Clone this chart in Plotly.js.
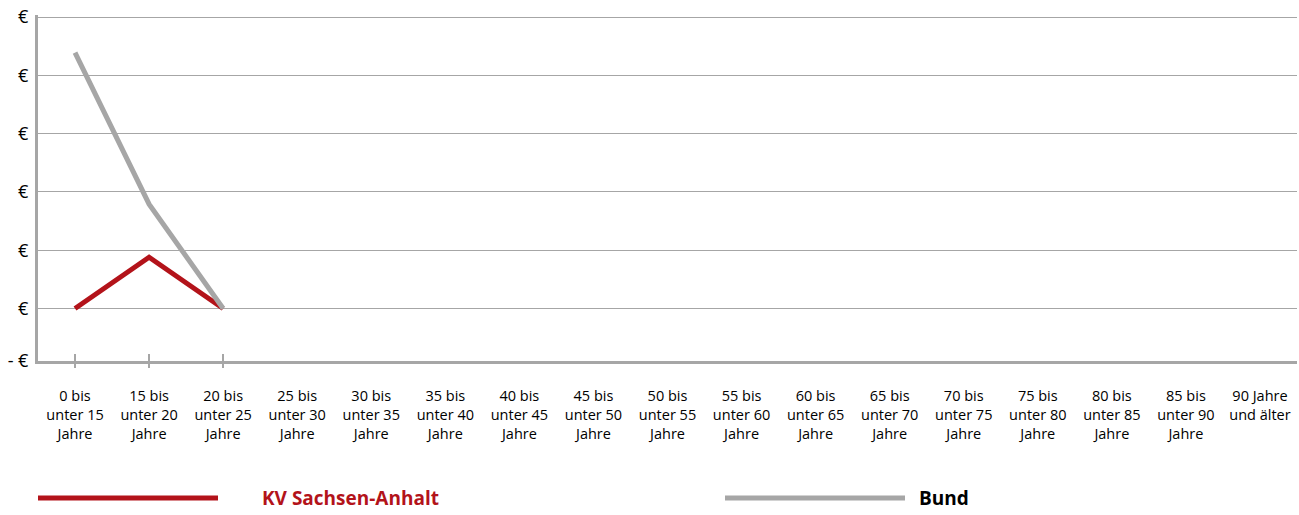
<!DOCTYPE html>
<html>
<head>
<meta charset="utf-8">
<script src="https://cdn.plot.ly/plotly-3.0.1.min.js"></script>
<style>html,body{margin:0;padding:0;background:#fff;}#chart{width:1299px;height:515px;}</style>
</head>
<body>
<div id="chart"></div>
<script>
const categories = [
  "0 bis<br>unter 15<br>Jahre", "15 bis<br>unter 20<br>Jahre", "20 bis<br>unter 25<br>Jahre",
  "25 bis<br>unter 30<br>Jahre", "30 bis<br>unter 35<br>Jahre", "35 bis<br>unter 40<br>Jahre",
  "40 bis<br>unter 45<br>Jahre", "45 bis<br>unter 50<br>Jahre", "50 bis<br>unter 55<br>Jahre",
  "55 bis<br>unter 60<br>Jahre", "60 bis<br>unter 65<br>Jahre", "65 bis<br>unter 70<br>Jahre",
  "70 bis<br>unter 75<br>Jahre", "75 bis<br>unter 80<br>Jahre", "80 bis<br>unter 85<br>Jahre",
  "85 bis<br>unter 90<br>Jahre", "90 Jahre<br>und älter"
];
const kvSachsenAnhalt = [0.9, 1.78, 0.9];
const bund = [5.29, 2.69, 0.9];
const yTickVals = [0, 0.9, 1.9, 2.9, 3.9, 4.9, 5.9];
const yTickText = ["- €", "€", "€", "€", "€", "€", "€"];
const seriesNames = ["KV Sachsen-Anhalt", "Bund"];
const seriesColors = ["#b3131a", "#a6a6a6"];

const fontFam = "'Open Sans', 'Noto Sans', sans-serif";
const tickedCats = categories.slice(0, 3);

const traces = [
  {x: categories.slice(0, kvSachsenAnhalt.length), y: kvSachsenAnhalt, type: "scatter", mode: "lines",
   name: seriesNames[0], line: {color: seriesColors[0], width: 5}, hoverinfo: "skip"},
  {x: categories.slice(0, bund.length), y: bund, type: "scatter", mode: "lines",
   name: seriesNames[1], line: {color: seriesColors[1], width: 5}, hoverinfo: "skip"}
];

const axCommon = {
  type: "category", categoryorder: "array", categoryarray: categories,
  range: [-0.5, categories.length - 0.5], fixedrange: true
};

const legY = -137 / 346;

const layout = {
  width: 1299, height: 515,
  margin: {l: 38, r: 2, t: 15, b: 154},
  paper_bgcolor: "#fff", plot_bgcolor: "#fff",
  showlegend: false,
  font: {family: fontFam, color: "#000", size: 14},
  xaxis: Object.assign({}, axCommon, {
    showgrid: false, zeroline: false,
    showline: true, linecolor: "#a6a6a6", linewidth: 3,
    ticks: "", tickfont: {family: fontFam, size: 14.5, color: "#000"},
    ticklabelstandoff: 20
  }),
  xaxis2: Object.assign({}, axCommon, {
    overlaying: "x", anchor: "y", side: "bottom",
    showgrid: false, zeroline: false, showline: false,
    tickmode: "array", tickvals: tickedCats, ticktext: ["", "", ""],
    ticks: "outside", ticklen: 6, tickwidth: 2, tickcolor: "#a6a6a6", showticklabels: false
  }),
  xaxis3: Object.assign({}, axCommon, {
    overlaying: "x", anchor: "y", side: "bottom",
    showgrid: false, zeroline: false, showline: false,
    tickmode: "array", tickvals: tickedCats, ticktext: ["", "", ""],
    ticks: "inside", ticklen: 7, tickwidth: 2, tickcolor: "#a6a6a6", showticklabels: false
  }),
  yaxis: {
    range: [0, 5.9343], fixedrange: true,
    tickmode: "array", tickvals: yTickVals, ticktext: yTickText,
    showgrid: true, gridcolor: "#a6a6a6", gridwidth: 1,
    zeroline: false, showline: true, linecolor: "#a6a6a6", linewidth: 3,
    ticks: "", tickfont: {family: fontFam, size: 18, color: "#000"},
    ticklabelstandoff: 3
  },
  shapes: [
    {type: "line", xref: "paper", yref: "paper", x0: 0, x1: 180/1259, y0: legY, y1: legY,
     line: {color: seriesColors[0], width: 5}},
    {type: "line", xref: "paper", yref: "paper", x0: 687/1259, x1: 867/1259, y0: legY, y1: legY,
     line: {color: seriesColors[1], width: 5}}
  ],
  annotations: [
    {xref: "paper", yref: "paper", x: 222/1259, y: legY, xanchor: "left", yanchor: "middle",
     text: "<b>" + seriesNames[0] + "</b>", showarrow: false,
     font: {family: fontFam, size: 19, color: seriesColors[0]}},
    {xref: "paper", yref: "paper", x: 879/1259, y: legY, xanchor: "left", yanchor: "middle",
     text: "<b>" + seriesNames[1] + "</b>", showarrow: false,
     font: {family: fontFam, size: 19, color: "#000"}}
  ]
};

traces.push({x: tickedCats, y: [null, null, null], xaxis: "x2", yaxis: "y", type: "scatter", mode: "lines", hoverinfo: "skip", showlegend: false});
traces.push({x: tickedCats, y: [null, null, null], xaxis: "x3", yaxis: "y", type: "scatter", mode: "lines", hoverinfo: "skip", showlegend: false});

Plotly.newPlot("chart", traces, layout, {displayModeBar: false, staticPlot: true});
</script>
</body>
</html>
